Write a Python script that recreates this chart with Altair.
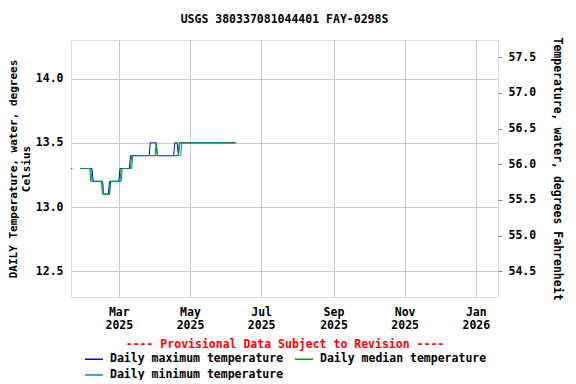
import altair as alt
import pandas as pd

# Daily values, one entry per day starting 2025-01-19 (None = no data)
start_date = "2025-01-19"
median_vals = (
    [13.3, 13.3] + [None] * 6 +
    [13.3] * 9 + [13.2] * 10 + [13.1] * 7 + [13.2] * 9 + [13.3] * 9 +
    [13.4] * 21 + [13.5] + [13.4] * 19 + [13.5] * 49
)
max_vals = (
    [13.3, 13.3] + [None] * 6 +
    [13.3] * 11 + [13.2] * 9 + [13.1] * 5 + [13.2] * 9 + [13.3] * 9 +
    [13.4] * 17 + [13.5] * 6 + [13.4] * 15 + [13.5] * 3 + [13.4] + [13.5] * 49
)
min_vals = (
    [13.3, 13.3] + [None] * 6 +
    [13.3] * 10 + [13.2] * 10 + [13.1] * 6 + [13.2] * 10 + [13.3] * 9 +
    [13.4] * 42 + [13.5] * 47
)

series_names = ["Daily maximum temperature", "Daily median temperature",
                "Daily minimum temperature"]
series_colors = ["#0000ff", "#00a000", "#0088dd"]
x_tick_dates = ["2025-03-01", "2025-05-01", "2025-07-01", "2025-09-01",
                "2025-11-01", "2026-01-01"]
y_ticks_c = [12.5, 13.0, 13.5, 14.0]
y_ticks_f = [54.5, 55.0, 55.5, 56.0, 56.5, 57.0, 57.5]
x_domain = ["2025-01-19", "2026-01-20"]
y_domain_c = [12.3, 14.3]

rows = []
dates = pd.date_range(start_date, periods=len(median_vals), freq="D")
for name, vals in zip(series_names, [max_vals, median_vals, min_vals]):
    seg = 0
    prev_none = False
    for d, v in zip(dates, vals):
        if v is None:
            prev_none = True
            continue
        if prev_none:
            seg += 1
            prev_none = False
        rows.append({"date": d.strftime("%Y-%m-%d"), "value": v,
                     "series": name, "seg": seg})
df = pd.DataFrame(rows)

def ms(s):
    return int(pd.Timestamp(s, tz="UTC").value // 10**6)

FONT = "DejaVu Sans Mono"

x_enc = alt.X(
    "date:T",
    scale=alt.Scale(type="utc", domain=[ms(x_domain[0]), ms(x_domain[1])], nice=False),
    axis=alt.Axis(
        values=[ms(s) for s in x_tick_dates],
        labelExpr="[utcFormat(datum.value, '%b'), utcFormat(datum.value, '%Y')]",
        title="---- Provisional Data Subject to Revision ----",
        titleColor="#ff0000",
        titleFont=FONT, titleFontSize=11.5, titleFontWeight="bold",
        titlePadding=8,
        labelFont=FONT, labelFontSize=11.5, labelFontWeight="bold",
        labelLineHeight=13, labelPadding=9,
        ticks=False, domain=False, grid=True, gridColor="#cccccc",
        labelColor="black",
    ),
)

y_enc = alt.Y(
    "value:Q",
    scale=alt.Scale(domain=y_domain_c, nice=False, zero=False),
    axis=alt.Axis(
        values=y_ticks_c, format=".1f",
        title=["DAILY Temperature, water, degrees", "Celsius"],
        titleFont=FONT, titleFontSize=11, titleFontWeight="bold",
        titlePadding=4, titleLineHeight=13,
        labelFont=FONT, labelFontSize=11.5, labelFontWeight="bold",
        labelPadding=8, ticks=False, domain=False, grid=True,
        gridColor="#cccccc", labelColor="black",
    ),
)

color_enc = alt.Color(
    "series:N",
    scale=alt.Scale(domain=series_names, range=series_colors),
    legend=alt.Legend(
        title=None, orient="none", legendX=13, legendY=309, columns=2,
        direction="horizontal", symbolType="stroke", symbolSize=324,
        symbolStrokeWidth=1.5, labelFont=FONT, labelFontSize=11.5,
        labelFontWeight="bold", labelOffset=6, columnPadding=8,
        rowPadding=-2, labelLimit=400,
    ),
)

layers = []
for name in [series_names[0], series_names[2], series_names[1]]:
    layers.append(
        alt.Chart(df)
        .transform_filter(alt.datum.series == name)
        .mark_line(strokeWidth=1, interpolate="linear")
        .encode(x=x_enc, y=y_enc, color=color_enc, detail="seg:N")
    )

left = alt.layer(*layers)

right = (
    alt.Chart(df)
    .transform_filter(alt.datum.series == series_names[1])
    .transform_calculate(f="datum.value * 1.8 + 32")
    .mark_line(opacity=0)
    .encode(
        x=x_enc,
        y=alt.Y(
            "f:Q",
            scale=alt.Scale(domain=[y_domain_c[0] * 1.8 + 32, y_domain_c[1] * 1.8 + 32],
                            nice=False, zero=False),
            axis=alt.Axis(
                orient="right", values=y_ticks_f, format=".1f",
                title="Temperature, water, degrees Fahrenheit",
                titleFont=FONT, titleFontSize=11.5, titleFontWeight="bold",
                titlePadding=16,
                labelFont=FONT, labelFontSize=11.5, labelFontWeight="bold",
                labelPadding=6, ticks=True, tickSize=4, domain=False,
                grid=False, labelColor="black",
            ),
        ),
    )
)

chart = (
    alt.layer(left, right)
    .resolve_scale(y="independent")
    .properties(
        width=427, height=257,
        title=alt.TitleParams("USGS 380337081044401 FAY-0298S", font=FONT,
                              fontSize=11.5, fontWeight="bold", anchor="middle",
                              offset=11),
        autosize=alt.AutoSizeParams(type="none"),
        padding={"left": 63, "top": 32, "right": 70, "bottom": 83},
    )
    .configure_view(stroke="black", strokeWidth=1)
    .configure(background="white")
)

chart.save("out.html", embed_options={"renderer": "svg", "actions": False})
